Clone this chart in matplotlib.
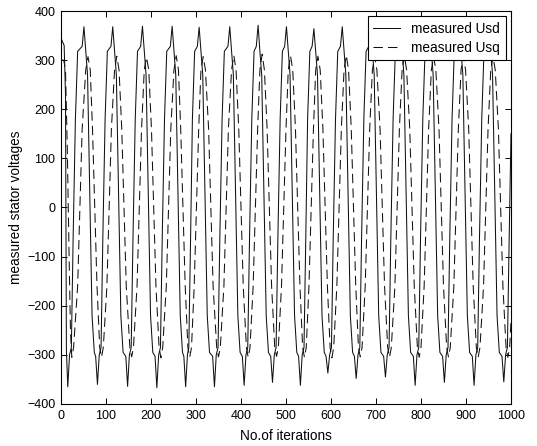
import matplotlib
matplotlib.use("Agg")
import matplotlib.pyplot as plt

plt.rcParams['font.family'] = ['Liberation Sans', 'DejaVu Sans']

# measured Usd (solid) - vertices, one row per cycle
usd_iter = [0, 3, 7, 10, 12,
            15, 19, 23, 27, 32, 37, 47, 51, 55, 59, 64, 69, 74, 77,
            81, 85, 89, 93, 98, 103, 111, 115, 119, 123, 128, 133, 138, 144,
            148, 152, 156, 160, 165, 170, 177, 181, 185, 189, 194, 199, 204, 209,
            213, 217, 221, 225, 230, 235, 243, 247, 251, 255, 260, 265, 270, 273,
            277, 281, 284, 288, 292, 297, 303, 307, 311, 315, 320, 325, 330, 337,
            341, 345, 349, 353, 358, 363, 371, 375, 379, 383, 388, 393, 398, 403,
            407, 411, 415, 419, 424, 429, 434, 438, 442, 446, 451, 456, 461, 466,
            470, 474, 478, 482, 487, 492, 497, 501, 505, 509, 514, 519, 524, 528,
            532, 536, 540, 544, 548, 553, 558, 562, 566, 570, 575, 580, 585, 589,
            593, 597, 601, 605, 610, 615, 621, 625, 629, 633, 638, 643, 648, 652,
            656, 660, 664, 668, 673, 678, 684, 688, 692, 696, 701, 706, 711, 717,
            721, 725, 729, 733, 738, 743, 750, 754, 758, 762, 767, 772, 777, 783,
            787, 791, 795, 799, 804, 809, 815, 819, 823, 827, 832, 837, 842, 848,
            852, 856, 860, 864, 869, 874, 881, 885, 889, 893, 898, 903, 908, 914,
            918, 922, 926, 930, 935, 940, 947, 951, 955, 959, 964, 969, 974, 980,
            984, 988, 992, 996, 1000]
usd_val = [345, 338, 330, 230, -290,
           -365, -300, -285, -60, 180, 318, 328, 368, 318, 270, 20, -220, -295, -303,
           -360, -300, -285, -60, 180, 318, 328, 368, 318, 270, 20, -220, -295, -303,
           -364, -300, -285, -60, 180, 318, 328, 369, 318, 270, 20, -220, -295, -303,
           -367, -300, -285, -60, 180, 318, 328, 369, 318, 270, 20, -220, -295, -303,
           -365, -300, -285, -60, 180, 318, 328, 367, 318, 270, 20, -220, -295, -303,
           -365, -300, -285, -60, 180, 318, 328, 368, 318, 270, 20, -220, -295, -303,
           -362, -300, -285, -60, 180, 318, 328, 371, 318, 270, 20, -220, -295, -303,
           -356, -300, -285, -60, 180, 318, 328, 368, 318, 270, 20, -220, -295, -303,
           -362, -300, -285, -60, 180, 318, 328, 364, 318, 270, 20, -220, -295, -303,
           -337, -300, -285, -60, 180, 318, 328, 368, 318, 270, 20, -220, -295, -303,
           -348, -300, -285, -60, 180, 318, 328, 367, 318, 270, 20, -220, -295, -303,
           -345, -300, -285, -60, 180, 318, 328, 368, 318, 270, 20, -220, -295, -303,
           -362, -300, -285, -60, 180, 318, 328, 366, 318, 270, 20, -220, -295, -303,
           -356, -300, -285, -60, 180, 318, 328, 368, 318, 270, 20, -220, -295, -303,
           -362, -300, -285, -60, 180, 318, 328, 367, 318, 270, 20, -220, -295, -303,
           -355, -300, -285, -60, 150]

# measured Usq (dashed)
usq_iter = [0, 6, 10, 14, 18, 21,
            24, 28, 37, 42, 47, 55, 60, 65, 70, 75, 80, 86,
            90, 94, 102, 107, 112, 119, 124, 129, 135, 140, 145, 153,
            157, 161, 169, 174, 179, 185, 190, 195, 201, 206, 211, 218,
            222, 226, 234, 239, 244, 251, 256, 261, 266, 271, 276, 282,
            286, 290, 296, 301, 306, 311, 316, 321, 328, 333, 338, 346,
            350, 354, 362, 367, 372, 379, 384, 389, 395, 400, 405, 412,
            416, 420, 427, 432, 437, 442, 447, 452, 458, 463, 468, 475,
            479, 483, 490, 495, 500, 505, 510, 515, 521, 526, 531, 537,
            541, 545, 551, 556, 561, 566, 571, 576, 582, 587, 592, 598,
            602, 606, 613, 618, 623, 629, 634, 639, 645, 650, 655, 661,
            665, 669, 676, 681, 686, 692, 697, 702, 709, 714, 719, 726,
            730, 734, 742, 747, 752, 758, 763, 768, 775, 780, 785, 792,
            796, 800, 807, 812, 817, 823, 828, 833, 840, 845, 850, 857,
            861, 865, 873, 878, 883, 889, 894, 899, 906, 911, 916, 923,
            927, 931, 939, 944, 949, 955, 960, 965, 972, 977, 982, 989,
            993, 997, 1000]
usq_val = [300, 300, 280, 120, -100, -250,
           -305, -285, -160, 0, 160, 280, 307, 280, 160, 0, -160, -285,
           -305, -285, -160, 0, 160, 280, 308, 280, 160, 0, -160, -285,
           -304, -285, -160, 0, 160, 280, 306, 280, 160, 0, -160, -285,
           -306, -285, -160, 0, 160, 280, 309, 280, 160, 0, -160, -285,
           -305, -285, -160, 0, 160, 280, 307, 280, 160, 0, -160, -285,
           -304, -285, -160, 0, 160, 280, 310, 280, 160, 0, -160, -285,
           -305, -285, -160, 0, 160, 280, 312, 280, 160, 0, -160, -285,
           -303, -285, -160, 0, 160, 280, 309, 280, 160, 0, -160, -285,
           -305, -285, -160, 0, 160, 280, 308, 280, 160, 0, -160, -285,
           -306, -285, -160, 0, 160, 280, 310, 280, 160, 0, -160, -285,
           -304, -285, -160, 0, 160, 280, 308, 280, 160, 0, -160, -285,
           -305, -285, -160, 0, 160, 280, 309, 280, 160, 0, -160, -285,
           -305, -285, -160, 0, 160, 280, 307, 280, 160, 0, -160, -285,
           -304, -285, -160, 0, 160, 280, 308, 280, 160, 0, -160, -285,
           -305, -285, -160, 0, 160, 280, 307, 280, 160, 0, -160, -285,
           -305, -285, -230]

x_ticks = list(range(0, 1001, 100))
y_ticks = list(range(-400, 401, 100))

fig = plt.figure(figsize=(5.37, 4.46), dpi=100)
ax = fig.add_axes([61 / 537, 1 - 404 / 446, 450 / 537, 393 / 446])

ax.plot(usd_iter, usd_val, color='#111111', linewidth=0.75, label='measured Usd')
ax.plot(usq_iter, usq_val, color='#111111', linewidth=0.75, linestyle=(0, (9, 5)),
        label='measured Usq')

ax.set_xlim(0, 1000)
ax.set_ylim(-400, 400)
ax.set_xticks(x_ticks)
ax.set_yticks(y_ticks)
ax.tick_params(direction='in', top=True, right=True, length=4, width=0.7,
               labelsize=9, pad=4)
for s in ax.spines.values():
    s.set_linewidth(0.8)

ax.set_xlabel('No.of iterations', fontsize=9.8, labelpad=5)
ax.set_ylabel('measured stator voltages', fontsize=9.8, labelpad=3)

leg = ax.legend(loc='upper right', fontsize=9.8, fancybox=False, framealpha=1,
                edgecolor='black', borderaxespad=0.4, labelspacing=0.35,
                handlelength=2.0, borderpad=0.4)
leg.get_frame().set_linewidth(0.8)

fig.savefig('out.png', dpi=100)
